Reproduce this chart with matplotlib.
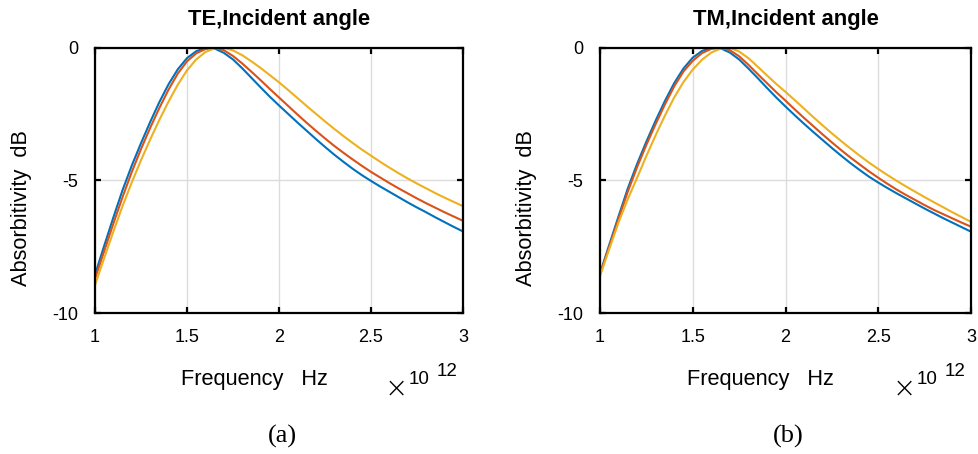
import numpy as np
import matplotlib
matplotlib.use("Agg")
import matplotlib.pyplot as plt

# Frequency samples in units of 1e12 Hz
freq = np.linspace(1.0, 3.0, 41)

# TE polarisation, absorptivity in dB
te_blue = [-8.55, -7.46, -6.39, -5.36, -4.44, -3.60, -2.80, -2.05, -1.38, -0.82,
           -0.40, -0.14, -0.02, -0.04, -0.20, -0.45, -0.78, -1.14, -1.50, -1.85,
           -2.18, -2.50, -2.82, -3.13, -3.44, -3.74, -4.03, -4.30, -4.56, -4.80,
           -5.02, -5.23, -5.43, -5.63, -5.83, -6.02, -6.20, -6.39, -6.57, -6.75, -6.92]
te_red = [-8.70, -7.66, -6.62, -5.62, -4.68, -3.82, -3.02, -2.27, -1.58, -0.98,
          -0.52, -0.22, -0.06, 0.00, -0.10, -0.32, -0.60, -0.91, -1.23, -1.56,
          -1.88, -2.20, -2.52, -2.83, -3.13, -3.42, -3.70, -3.96, -4.21, -4.45,
          -4.68, -4.89, -5.10, -5.30, -5.49, -5.68, -5.86, -6.03, -6.20, -6.36, -6.52]
te_yellow = [-8.94, -7.92, -6.92, -5.96, -5.07, -4.24, -3.46, -2.72, -2.03, -1.40,
             -0.86, -0.45, -0.17, -0.03, -0.01, -0.11, -0.29, -0.52, -0.77, -1.04,
             -1.31, -1.60, -1.90, -2.20, -2.49, -2.78, -3.06, -3.33, -3.59, -3.84,
             -4.07, -4.30, -4.52, -4.73, -4.93, -5.12, -5.30, -5.48, -5.65, -5.81, -5.97]

# TM polarisation, absorptivity in dB
tm_blue = [-8.50, -7.42, -6.35, -5.30, -4.38, -3.54, -2.75, -2.01, -1.34, -0.79,
           -0.38, -0.13, -0.02, -0.03, -0.19, -0.45, -0.79, -1.15, -1.52, -1.88,
           -2.22, -2.55, -2.87, -3.18, -3.48, -3.78, -4.07, -4.35, -4.61, -4.86,
           -5.08, -5.29, -5.49, -5.68, -5.87, -6.06, -6.24, -6.42, -6.59, -6.76, -6.93]
tm_red = [-8.55, -7.49, -6.44, -5.42, -4.50, -3.66, -2.88, -2.14, -1.46, -0.90,
          -0.50, -0.21, -0.05, 0.00, -0.10, -0.33, -0.65, -1.00, -1.34, -1.68,
          -2.00, -2.33, -2.65, -2.96, -3.27, -3.57, -3.86, -4.14, -4.40, -4.66,
          -4.90, -5.13, -5.35, -5.55, -5.74, -5.93, -6.11, -6.27, -6.43, -6.59, -6.74]
tm_yellow = [-8.60, -7.58, -6.58, -5.70, -4.90, -4.08, -3.30, -2.56, -1.88, -1.30,
             -0.83, -0.46, -0.19, -0.04, -0.01, -0.15, -0.40, -0.72, -1.05, -1.37,
             -1.67, -1.98, -2.30, -2.62, -2.93, -3.23, -3.52, -3.80, -4.07, -4.33,
             -4.57, -4.80, -5.02, -5.23, -5.43, -5.63, -5.82, -6.01, -6.20, -6.38, -6.56]

titles = ["TE,Incident angle", "TM,Incident angle"]
captions = ["(a)", "(b)"]
x_ticks = [1, 1.5, 2, 2.5, 3]
x_tick_labels = ["1", "1.5", "2", "2.5", "3"]
y_ticks = [-10, -5, 0]
y_tick_labels = ["-10", "-5", "0"]
colors = ["#0072BD", "#D95319", "#EDB120"]

W, H = 979, 454
plt.rcParams["font.family"] = ["Liberation Sans", "DejaVu Sans"]
fig = plt.figure(figsize=(W / 100, H / 100), dpi=100)

panels = [
    dict(left=95, right=463, series=[te_blue, te_red, te_yellow]),
    dict(left=600, right=971, series=[tm_blue, tm_red, tm_yellow]),
]
top_px, bottom_px = 47.5, 313.3

for i, p in enumerate(panels):
    ax = fig.add_axes([p["left"] / W, 1 - bottom_px / H,
                       (p["right"] - p["left"]) / W, (bottom_px - top_px) / H])
    for vals, c in zip(p["series"], colors):
        ax.plot(freq, vals, color=c, lw=1.5, solid_joinstyle="round")
    ax.set_xlim(1, 3)
    ax.set_ylim(-10, 0)
    ax.set_xticks(x_ticks)
    ax.set_xticklabels(x_tick_labels)
    ax.set_yticks(y_ticks)
    ax.set_yticklabels(y_tick_labels)
    ax.grid(True, color="#dcdcdc", lw=1.0)
    ax.set_axisbelow(True)
    for s in ax.spines.values():
        s.set_linewidth(1.6)
        s.set_color("black")
    ax.tick_params(direction="in", length=4.5, width=1.6, top=True, right=True,
                   labelsize=13)
    ax.tick_params(axis="y", pad=12)
    ax.tick_params(axis="x", pad=11)
    for lab in ax.get_yticklabels():
        lab.set_verticalalignment("center_baseline")

    cx = (p["left"] + p["right"]) / 2
    fig.text(cx / W, 1 - 20 / H, titles[i], ha="center", va="center",
             fontsize=15.8, fontweight="bold")
    fig.text((cx - 25) / W, 1 - 379 / H, "Frequency   Hz", ha="center",
             va="center", fontsize=15.7)
    fig.text((p["left"] - 73) / W, 1 - 208 / H, "Absorbitivity  dB",
             ha="center", va="center", rotation=90, fontsize=15.7)
    # axis multiplier
    fig.text((p["right"] - 67) / W, 1 - 389 / H, "\u00d7", ha="center",
             va="center", fontsize=20, family=["DejaVu Sans"], fontweight="light")
    fig.text((p["right"] - 44) / W, 1 - 379 / H, "10", ha="center",
             va="center", fontsize=13.5)
    fig.text((p["right"] - 16) / W, 1 - 371.5 / H, "12", ha="center",
             va="center", fontsize=13.5)
    fig.text((cx + 3) / W, 1 - 436 / H, captions[i], ha="center", va="center",
             fontsize=19, family=["Liberation Serif", "DejaVu Serif"])

fig.savefig("out.png", dpi=100)
